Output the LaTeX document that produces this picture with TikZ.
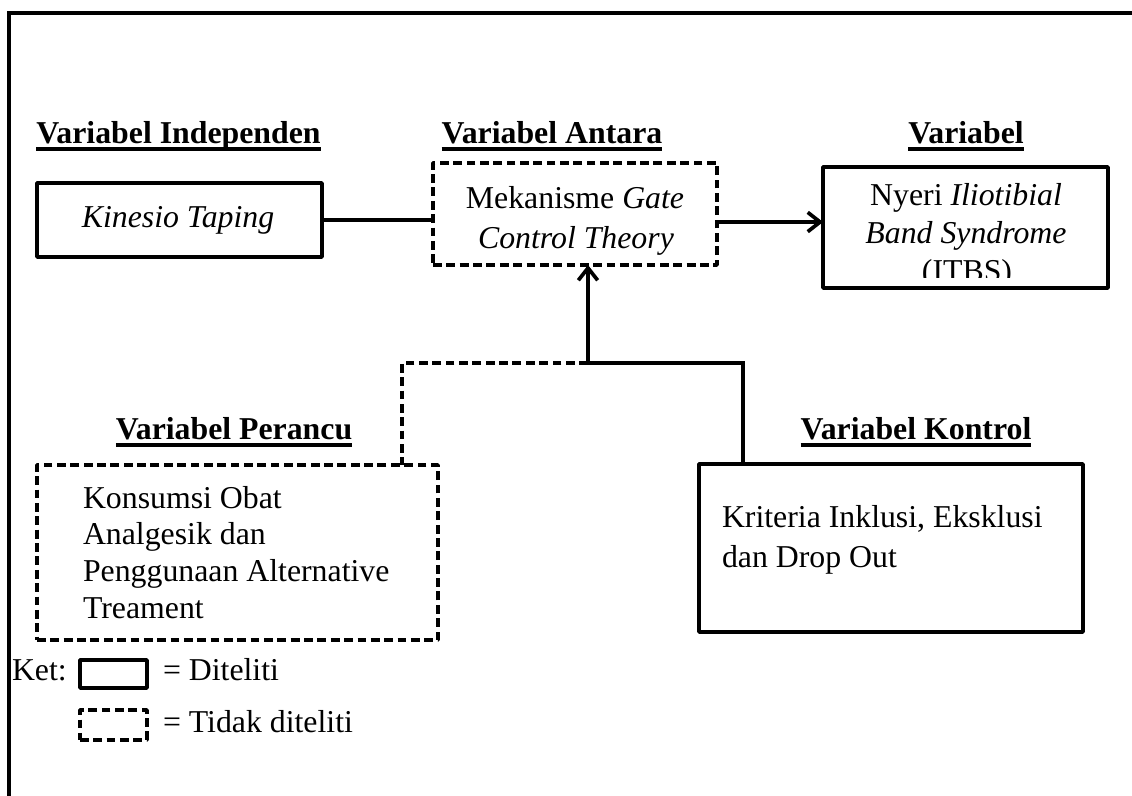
\documentclass[tikz,border=0pt]{standalone}
\usepackage{fontspec}
\setmainfont{Liberation Serif}
\usetikzlibrary{arrows.meta}
\begin{document}
\begin{tikzpicture}[x=0.02cm,y=-0.02cm,
  every node/.style={font=\fontsize{18.1}{21}\selectfont, inner sep=0pt, outer sep=0pt},
  lw/.style={line width=2.1pt},
  solidbox/.style={draw, lw, rectangle, line join=round},
  dashbox/.style={solidbox, dash pattern=on 5pt off 2.6pt},
  dashline/.style={lw, dash pattern=on 5pt off 2.6pt},
  txt/.style={anchor=base},
  ltxt/.style={anchor=base west},
  head/.style={anchor=base, font=\fontsize{18.1}{21}\selectfont\bfseries},
  ul/.style={line width=2.3pt},
  conn/.style={lw},
  arr/.style={lw, -{Straight Barb[length=7pt,width=11pt,line width=2.1pt]}}
]
\useasboundingbox (0,0) rectangle (1132,795);
% outer frame
\draw[lw] (9,805) -- (9,13) -- (1145,13);

% headings
\node[head] (hind) at (178.5,143) {Variabel Independen};
\node[head] (hant) at (552,143) {Variabel Antara};
\node[head] (hdep) at (966,143) {Variabel};
\node[head] (hper) at (234,439) {Variabel Perancu};
\node[head] (hkon) at (916,439) {Variabel Kontrol};
\foreach \h in {hind,hant,hdep,hper,hkon}
  \draw[ul] ([yshift=-3.4pt]\h.base west) -- ([yshift=-3.4pt]\h.base east);

% boxes
\node[solidbox, minimum width=5.70cm, minimum height=1.48cm] (kin) at (179.5,220) {};
\node[dashbox, minimum width=5.68cm, minimum height=2.04cm] (gate) at (575,214) {};
\node[solidbox, minimum width=5.70cm, minimum height=2.42cm] (itbs) at (965.5,227.5) {};
\node[dashbox, minimum width=8.02cm, minimum height=3.50cm] (per) at (237.5,552.5) {};
\node[solidbox, minimum width=7.68cm, minimum height=3.36cm] (kon) at (891,548) {};

% box texts
\node[txt] (tkin) at (178,227) {\itshape Kinesio Taping};
\node[txt] (tgate1) at (575,208) {Mekanisme \textit{Gate}};
\node[txt] (tgate2) at (576,248) {\textit{Control Theory}};
\begin{scope}
\clip (823,160) rectangle (1108,277);
\node[txt] (titbs1) at (966,205) {Nyeri \textit{Iliotibial}};
\node[txt] (titbs2) at (966,243) {\textit{Band Syndrome}};
\node[txt] (titbs3) at (967,281) {(ITBS)};
\end{scope}
\node[ltxt] (tper1) at (83,508) {Konsumsi Obat};
\node[ltxt] (tper2) at (83,544) {Analgesik dan};
\node[ltxt] (tper3) at (83,581) {Penggunaan Alternative};
\node[ltxt] (tper4) at (83,618) {Treament};
\node[ltxt] (tkon1) at (722,527) {Kriteria Inklusi, Eksklusi};
\node[ltxt] (tkon2) at (722,567) {dan Drop Out};

% connectors
\draw[conn] (kin.east) -- (kin.east -| gate.west);
\draw[arr] (gate.east |- 0,222) -- (itbs.west |- 0,222);
\coordinate (j) at (588,363);
\coordinate (kc) at (743,363);
\coordinate (pc) at (402,363);
\draw[arr] (j) -- (j |- gate.south);
\draw[conn] (j) -- (kc) -- (kc |- kon.north);
\draw[dashline] (j) -- (pc) -- (pc |- per.north);

% legend
\node[ltxt] (ket) at (12,680) {Ket:};
\node[solidbox, minimum width=1.34cm, minimum height=0.56cm] (lgs) at (113.5,674) {};
\node[ltxt] (lgst) at (163,680) {= Diteliti};
\node[dashbox, minimum width=1.34cm, minimum height=0.60cm] (lgd) at (113.5,725) {};
\node[ltxt] (lgdt) at (163,732) {= Tidak diteliti};
\end{tikzpicture}
\end{document}
